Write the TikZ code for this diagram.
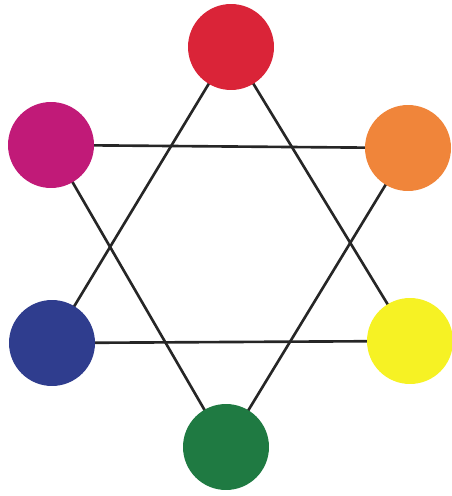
\documentclass[tikz,border=0pt]{standalone}
\usepackage{tikz}
\usetikzlibrary{backgrounds}

\definecolor{cred}{HTML}{DA2438}
\definecolor{corange}{HTML}{F0853A}
\definecolor{cyellow}{HTML}{F6F224}
\definecolor{cgreen}{HTML}{1F7A42}
\definecolor{cblue}{HTML}{2F3D8E}
\definecolor{cmagenta}{HTML}{C11A78}

\tikzset{
    dot/.style={circle, fill=#1, minimum size=1.72cm, inner sep=0pt},
    link/.style={line width=1.5pt, color=black!85}
}

\begin{document}
\begin{tikzpicture}[x=0.02cm, y=-0.02cm]
                \useasboundingbox (0,0) rectangle (451,496);

                \node[dot=cred] (red) at (231, 47) {};
                \node[dot=corange] (orange) at (408, 148) {};
                \node[dot=cyellow] (yellow) at (410, 341) {};
                \node[dot=cgreen] (green) at (226, 447) {};
                \node[dot=cblue] (blue) at (52, 343) {};
                \node[dot=cmagenta] (magenta) at (51, 145) {};

                \begin{scope}[on background layer]
                    % primaries
                    \draw[link] (red.center) -- (yellow.center) -- (blue.center) -- cycle;
                    % secondaries
                    \draw[link] (magenta.center) -- (orange.center) -- (green.center) -- cycle;
                \end{scope}
            \end{tikzpicture}
\end{document}
